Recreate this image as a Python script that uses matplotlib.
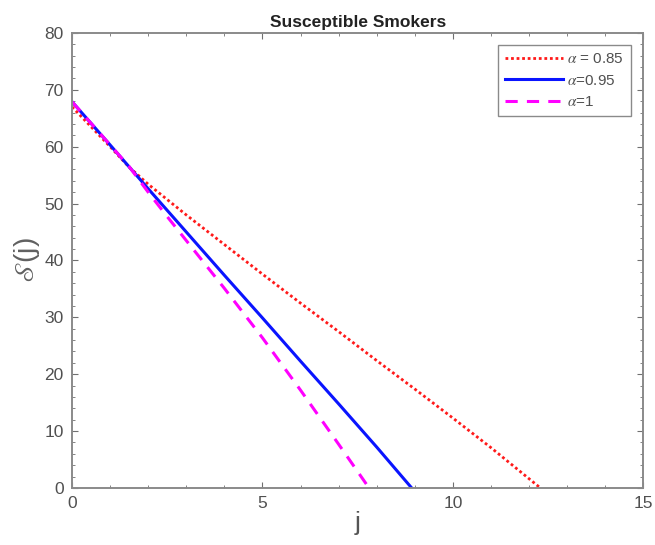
import numpy as np
import matplotlib
matplotlib.use('Agg')
import matplotlib.pyplot as plt
from matplotlib.ticker import MultipleLocator

plt.rcParams['mathtext.fontset'] = 'stix'
plt.rcParams['font.family'] = ['Liberation Sans', 'DejaVu Sans']

# values
j_red = [0, 0.5, 1, 1.5, 2, 3, 4, 5, 6, 7, 8, 9, 10, 11, 12.3]
s_red = [67.0, 63.5, 60.0, 56.4, 53.4, 48.0, 42.8, 37.6, 32.5, 27.5, 22.4, 17.4, 12.3, 7.1, 0.0]

j_blue = [0, 1, 2, 3, 4, 5, 6, 7, 8, 8.92]
s_blue = [67.9, 60.3, 52.6, 45.0, 37.4, 29.9, 22.3, 14.8, 7.2, 0.0]

j_mag = [0, 0.5, 1, 1.5, 2, 2.5, 3, 4, 5, 6, 7, 7.8]
s_mag = [67.9, 64.1, 60.3, 56.5, 52.0, 47.7, 43.5, 35.1, 26.4, 17.2, 7.7, 0.0]

labels = [r'$\alpha$ = 0.85', r'$\alpha$=0.95', r'$\alpha$=1']

fig = plt.figure(figsize=(6.55, 5.45), dpi=100)
ax = fig.add_axes([0.110, 0.1046, 0.872, 0.835])

ax.plot(j_red, s_red, color='#ff1a1a', lw=2.0, linestyle=(0, (1, 1)), label=labels[0])
ax.plot(j_blue, s_blue, color='#0a14ff', lw=2.2, label=labels[1])
ax.plot(j_mag, s_mag, color='#ff00ff', lw=2.2, linestyle=(0, (4, 3)), label=labels[2])

ax.set_xlim(0, 15)
ax.set_ylim(0, 80)
ax.xaxis.set_major_locator(MultipleLocator(5))
ax.xaxis.set_minor_locator(MultipleLocator(1))
ax.yaxis.set_major_locator(MultipleLocator(10))
ax.yaxis.set_minor_locator(MultipleLocator(2))
ax.tick_params(which='both', direction='in', top=True, right=True,
               colors='#707070', labelcolor='#505050', labelsize=12.5, pad=6)
ax.tick_params(which='major', length=4)
ax.tick_params(which='minor', length=2.5)
for sp in ax.spines.values():
    sp.set_color('#8a8a8a')
    sp.set_linewidth(1.4)

ax.set_title('Susceptible Smokers', fontsize=12.5, fontweight='bold', color='#222222', pad=4)
ax.set_xlabel('j', fontsize=19, color='#555555', labelpad=0)
ax.set_ylabel(r'$\mathscr{S}$(j)', fontsize=20, color='#606060', labelpad=2)

leg = ax.legend(loc='upper right', fontsize=11, fancybox=False, framealpha=1,
                edgecolor='#8a8a8a', handlelength=3.8, handletextpad=0.3,
                borderpad=0.45, labelspacing=0.5, borderaxespad=0.8)
for t in leg.get_texts():
    t.set_color('#505050')

fig.savefig('out.png', dpi=100)
